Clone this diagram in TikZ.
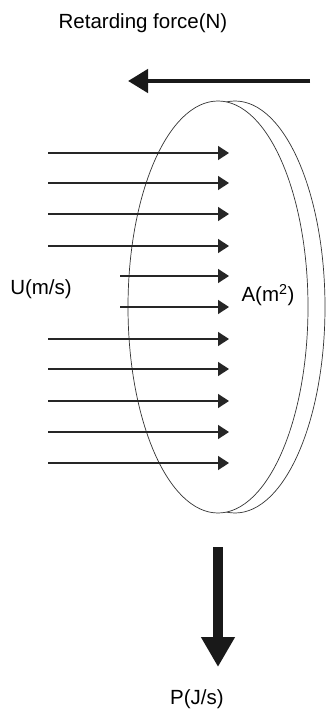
\documentclass[tikz,border=0pt]{standalone}
\usepackage{fontspec}
\setmainfont{Liberation Sans}
\usetikzlibrary{arrows.meta}

\begin{document}
\begin{tikzpicture}[
  x=1pt,y=-1pt,
  font=\fontsize{20.5}{24}\selectfont,
  lbl/.style={inner sep=0pt},
  disc/.style={draw=black!80,line width=0.7pt,fill=white},
  flow/.style={black!85,line width=1.4pt,-{Triangle[length=11pt,width=14pt]}},
  drag/.style={black!90,line width=4.5pt,-{Triangle[length=20pt,width=23pt]}},
  power/.style={black!90,line width=10pt,-{Triangle[length=30pt,width=32pt]}}
]
\useasboundingbox (0,0) rectangle (326,714);
% rotor disc, seen at an angle
\draw[disc] (235,307) ellipse [x radius=90,y radius=206];
\draw[disc] (218,307) ellipse [x radius=90,y radius=206];
% labels
\node[lbl] (title) at (143,23)  {Retarding force(N)};
\node[lbl] (vel)   at (41,289)  {U(m/s)};
\node[lbl] (area)  at (268,295) {A(m\textsuperscript{2})};
\node[lbl] (pow)   at (197,699) {P(J/s)};
% retarding force
\coordinate (fs) at (310,81); \coordinate (fe) at (128,81);
\draw[drag] (fs)--(fe);
% incoming wind
\foreach \i/\y in {1/153,2/183,3/214,4/246,7/339,8/369,9/401,10/432,11/463}{
  \coordinate (w\i) at (48,\y); \coordinate (t\i) at (229,\y);
  \draw[flow] (w\i)--(t\i);
}
\foreach \i/\y in {5/276,6/307}{
  \coordinate (w\i) at (120,\y); \coordinate (t\i) at (229,\y);
  \draw[flow] (w\i)--(t\i);
}
% extracted power
\coordinate (ps) at (218,547); \coordinate (pe) at (218,667);
\draw[power] (ps)--(pe);
\end{tikzpicture}
\end{document}
